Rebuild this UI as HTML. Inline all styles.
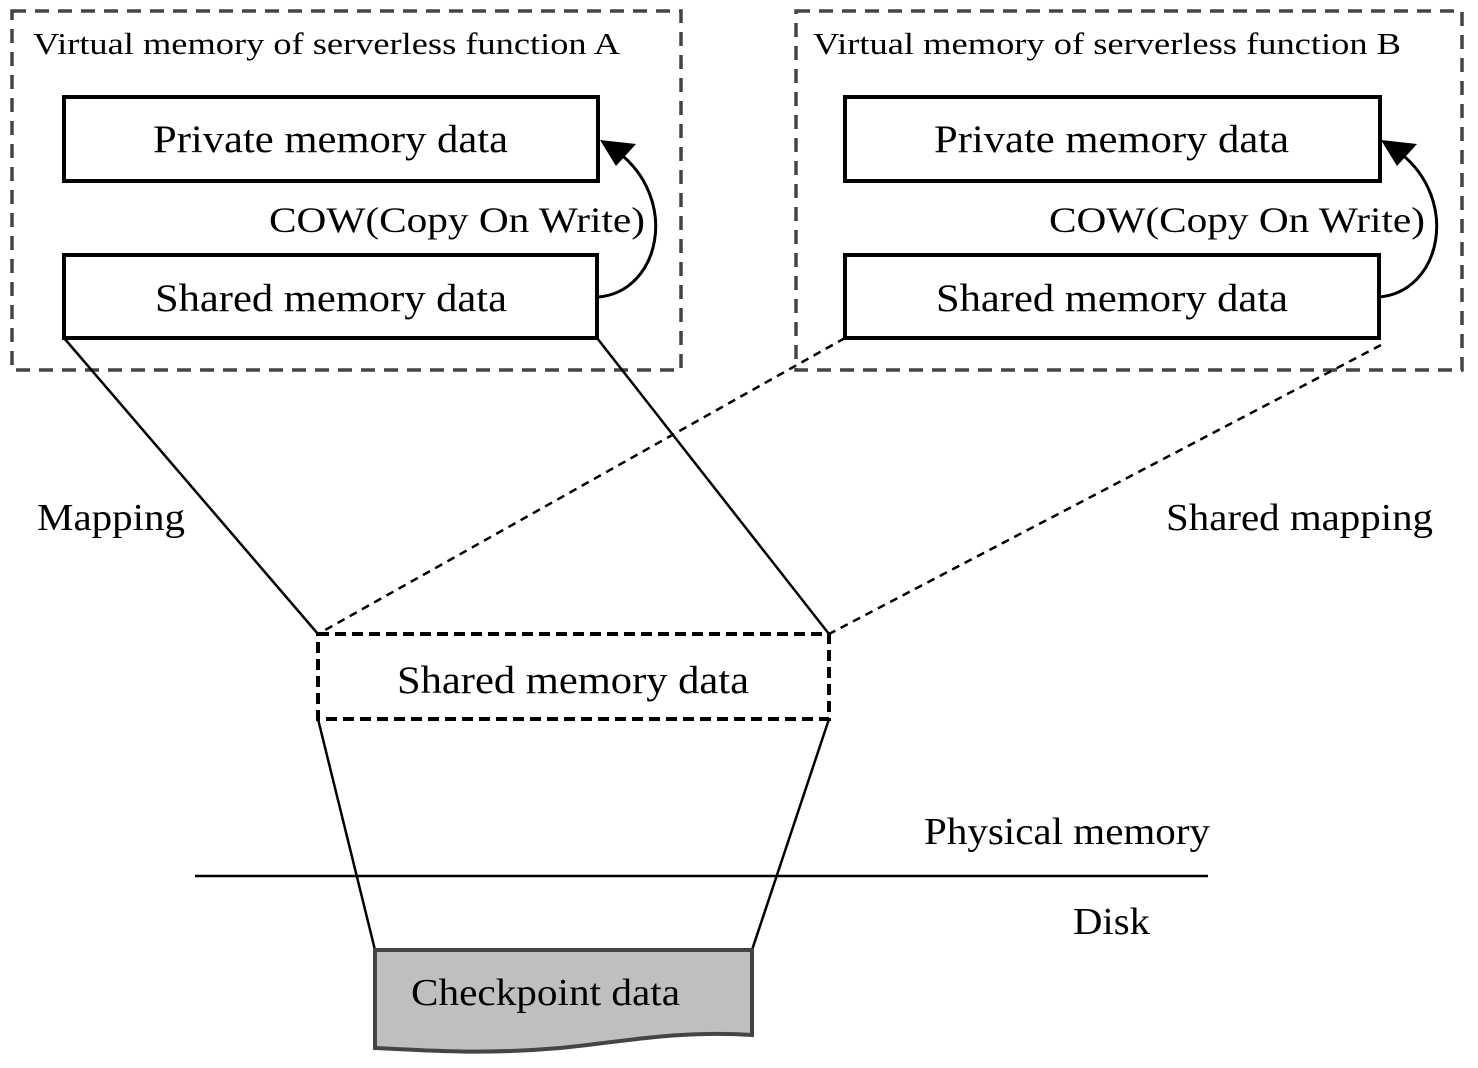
<!DOCTYPE html>
<html><head><meta charset="utf-8"><style>body{margin:0;background:#fff}svg{display:block}text{font-family:"Liberation Serif",serif;fill:#000}</style></head>
<body>
<svg width="1478" height="1068" viewBox="0 0 1478 1068" xmlns="http://www.w3.org/2000/svg">
<g fill="none" stroke="#444" stroke-width="3.5" stroke-dasharray="14,9">
<rect x="12" y="11" width="669" height="359"/>
<rect x="796" y="11" width="666" height="359"/>
</g>
<g fill="#fff" stroke="#000" stroke-width="4">
<rect x="64" y="97" width="534" height="84"/>
<rect x="64" y="255" width="533" height="83"/>
<rect x="845" y="97" width="535" height="84"/>
<rect x="845" y="255" width="534" height="83"/>
</g>
<g font-size="31" lengthAdjust="spacingAndGlyphs"><text x="33" y="54" textLength="587" lengthAdjust="spacingAndGlyphs">Virtual memory of serverless function A</text><text x="813" y="54" textLength="588" lengthAdjust="spacingAndGlyphs">Virtual memory of serverless function B</text></g>
<g font-size="39">
<text x="153" y="152" textLength="355" lengthAdjust="spacingAndGlyphs">Private memory data</text>
<text x="155" y="311" textLength="352" lengthAdjust="spacingAndGlyphs">Shared memory data</text>
<text x="934" y="152" textLength="355" lengthAdjust="spacingAndGlyphs">Private memory data</text>
<text x="936" y="311" textLength="352" lengthAdjust="spacingAndGlyphs">Shared memory data</text>
<text x="397" y="693" textLength="352" lengthAdjust="spacingAndGlyphs">Shared memory data</text>
</g>
<g font-size="36"><text x="269" y="232" textLength="376" lengthAdjust="spacingAndGlyphs">COW(Copy On Write)</text><text x="1049" y="232" textLength="376" lengthAdjust="spacingAndGlyphs">COW(Copy On Write)</text></g>
<g fill="none" stroke="#000" stroke-width="3">
<path d="M598,297 C660,292 680,200 618,152"/>
<path d="M1379,297 C1441,292 1461,200 1399,152"/>
</g>
<path d="M600,140 L636,144 L616,166 z" fill="#000"/>
<path d="M1381,140 L1417,144 L1397,166 z" fill="#000"/>
<g stroke="#000" stroke-width="2.5" fill="none">
<line x1="64" y1="338" x2="318" y2="634"/>
<line x1="597" y1="338" x2="829" y2="634"/>
<line x1="318" y1="719" x2="375" y2="950"/>
<line x1="829" y1="719" x2="752" y2="950"/>
<line x1="195" y1="876" x2="1208" y2="876"/>
<g stroke-dasharray="8,6"><line x1="845" y1="338" x2="318" y2="634"/><line x1="1381" y1="345" x2="829" y2="634"/></g>
</g>
<rect x="318" y="634" width="511" height="85" fill="none" stroke="#000" stroke-width="4" stroke-dasharray="11,6"/>
<path d="M375,950 L752,950 L752,1035 C680,1030 620,1042 560,1048 C480,1055 420,1050 375,1048 z" fill="#bfbfbf" stroke="#444" stroke-width="4"/>
<g font-size="38">
<text x="37" y="530" textLength="148" lengthAdjust="spacingAndGlyphs">Mapping</text>
<text x="1166" y="530" textLength="267" lengthAdjust="spacingAndGlyphs">Shared mapping</text>
<text x="924" y="844" textLength="286" lengthAdjust="spacingAndGlyphs">Physical memory</text>
<text x="1073" y="934" textLength="77" lengthAdjust="spacingAndGlyphs">Disk</text>
<text x="411" y="1005" textLength="269" lengthAdjust="spacingAndGlyphs">Checkpoint data</text>
</g>
</svg>
</body></html>
